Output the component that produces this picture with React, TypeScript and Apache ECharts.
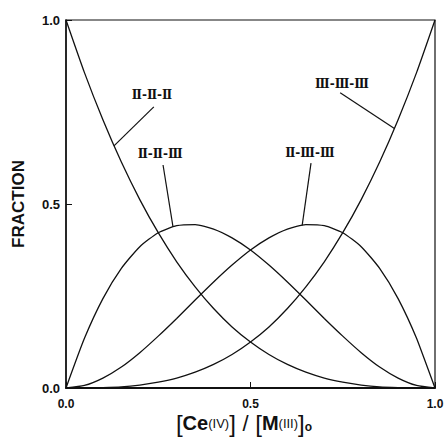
import React, { useEffect, useRef } from "react";
import * as echarts from "echarts";

// Mole ratio [Ce(IV)] / [M(III)]0
const ratio = [0, 0.05, 0.1, 0.15, 0.2, 0.25, 0.3, 0.35, 0.4, 0.45, 0.5, 0.55, 0.6, 0.65, 0.7, 0.75, 0.8, 0.85, 0.9, 0.95, 1];

// Fraction of each oxidation-state species
const fracIIIIII = [1, 0.857, 0.729, 0.614, 0.512, 0.422, 0.343, 0.275, 0.216, 0.166, 0.125, 0.091, 0.064, 0.043, 0.027, 0.016, 0.008, 0.003, 0.001, 0.0, 0];
const fracIIIIIII = [0, 0.135, 0.243, 0.325, 0.384, 0.422, 0.441, 0.444, 0.432, 0.408, 0.375, 0.334, 0.288, 0.239, 0.189, 0.141, 0.096, 0.057, 0.027, 0.007, 0];
const fracIIIIIIII = [0, 0.007, 0.027, 0.057, 0.096, 0.141, 0.189, 0.239, 0.288, 0.334, 0.375, 0.408, 0.432, 0.444, 0.441, 0.422, 0.384, 0.325, 0.243, 0.135, 0];
const fracIIIIIIIII = [0, 0.0, 0.001, 0.003, 0.008, 0.016, 0.027, 0.043, 0.064, 0.091, 0.125, 0.166, 0.216, 0.275, 0.343, 0.422, 0.512, 0.614, 0.729, 0.857, 1];

const seriesNames = ["Ⅱ-Ⅱ-Ⅱ", "Ⅱ-Ⅱ-Ⅲ", "Ⅱ-Ⅲ-Ⅲ", "Ⅲ-Ⅲ-Ⅲ"];
const seriesValues = [fracIIIIII, fracIIIIIII, fracIIIIIIII, fracIIIIIIIII];

// Curve labels: label centre and leader line (start, end on curve) in data units
const curveLabels = [
  { text: "Ⅱ-Ⅱ-Ⅱ", at: [0.233, 0.796], from: [0.238, 0.764], to: [0.13, 0.658] },
  { text: "Ⅱ-Ⅱ-Ⅲ", at: [0.255, 0.636], from: [0.263, 0.606], to: [0.29, 0.438] },
  { text: "Ⅱ-Ⅲ-Ⅲ", at: [0.661, 0.639], from: [0.664, 0.611], to: [0.64, 0.442] },
  { text: "Ⅲ-Ⅲ-Ⅲ", at: [0.748, 0.826], from: [0.743, 0.802], to: [0.89, 0.705] },
];

const INK = "#111";

export default function App() {
  const ref = useRef<HTMLDivElement>(null);

  useEffect(() => {
    if (!ref.current) return;
    const chart = echarts.init(ref.current, undefined, { renderer: "svg" });

    const axisLabel = {
      color: INK,
      fontFamily: "Liberation Sans",
      fontWeight: "bold" as const,
      fontSize: 12,
      formatter: (v: number) => v.toFixed(1),
    };

    chart.setOption({
      animation: false,
      backgroundColor: "#fff",
      grid: {
        left: 66,
        right: 13,
        top: 20,
        bottom: 50,
        show: true,
        borderColor: INK,
        borderWidth: 1.2,
      },
      xAxis: {
        type: "value",
        min: 0,
        max: 1,
        interval: 0.5,
        axisLine: { lineStyle: { color: INK, width: 2 } },
        axisTick: { inside: true, length: 6, lineStyle: { color: INK } },
        splitLine: { show: false },
        axisLabel: { ...axisLabel, margin: 10 },
      },
      yAxis: {
        type: "value",
        min: 0,
        max: 1,
        interval: 0.5,
        name: "FRACTION",
        nameLocation: "middle",
        nameGap: 39,
        nameTextStyle: {
          color: INK,
          fontFamily: "Liberation Sans",
          fontWeight: "bold",
          fontSize: 17,
        },
        axisLine: { lineStyle: { color: INK, width: 1.5 } },
        axisTick: { inside: true, length: 6, lineStyle: { color: INK } },
        splitLine: { show: false },
        axisLabel: { ...axisLabel, fontSize: 13, margin: 6 },
      },
      series: seriesNames.map((name, i) => ({
        name,
        type: "line",
        showSymbol: false,
        smooth: 0.2,
        lineStyle: { color: INK, width: 1.3 },
        data: ratio.map((x, j) => [x, seriesValues[i][j]]),
      })),
    });

    const px = (p: number[]) => chart.convertToPixel({ gridIndex: 0 }, p) as number[];

    const graphics: any[] = [];
    curveLabels.forEach((c) => {
      const a = px(c.at);
      const f = px(c.from);
      const t = px(c.to);
      graphics.push({
        type: "text",
        x: a[0],
        y: a[1],
        style: {
          text: c.text,
          fill: INK,
          fontFamily: "DejaVu Serif",
          fontWeight: "bold",
          fontSize: 12,
          align: "center",
          verticalAlign: "middle",
        },
      });
      graphics.push({
        type: "line",
        shape: { x1: f[0], y1: f[1], x2: t[0], y2: t[1] },
        style: { stroke: INK, lineWidth: 1.2 },
      });
    });

    // x-axis title: [Ce(IV)] / [M(III)]o
    graphics.push({
      type: "text",
      x: 244,
      y: 423,
      style: {
        text: "{br|[}{big|Ce}{sm|(IV)}{br|]}  {sl|/}  {br|[}{big|M}{sm|(III)}{br|]}{sub|o}",
        align: "center",
        verticalAlign: "middle",
        fill: INK,
        rich: {
          br: { fontFamily: "Liberation Sans", fontWeight: "normal", fontSize: 24, fill: INK },
          big: { fontFamily: "Liberation Sans", fontWeight: "bold", fontSize: 20, fill: INK },
          sm: { fontFamily: "Liberation Sans", fontWeight: "normal", fontSize: 13, fill: INK },
          sl: { fontFamily: "Liberation Sans", fontWeight: "normal", fontSize: 22, fill: INK },
          sub: { fontFamily: "Liberation Sans", fontWeight: "bold", fontSize: 12, fill: INK, padding: [8, 0, 0, 0] },
        },
      },
    });

    chart.setOption({ graphic: graphics });

    return () => chart.dispose();
  }, []);

  return (
    <div
      ref={ref}
      style={{ position: "absolute", left: 0, top: 0, width: 448, height: 438 }}
    />
  );
}
